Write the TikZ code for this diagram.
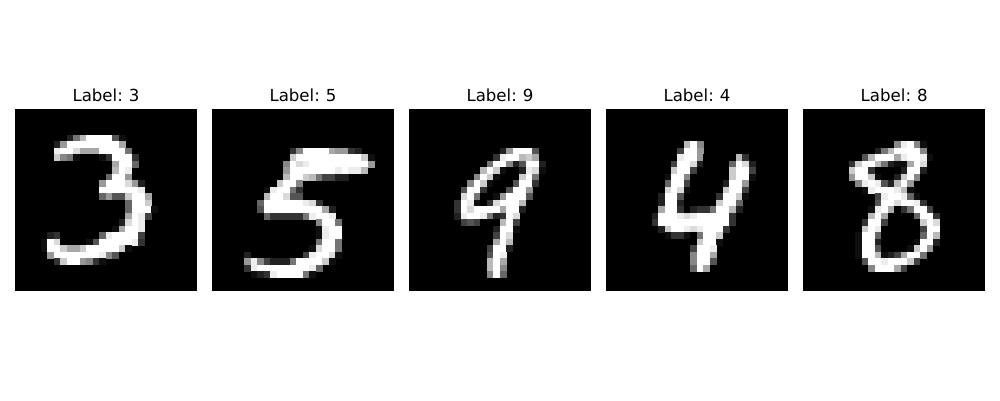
\documentclass[tikz,border=0pt]{standalone}
\usepackage{fontspec}
\setmainfont[WordSpace=0.8]{DejaVu Sans}
\usetikzlibrary{positioning}
\tikzset{
  labeltitle/.style={anchor=base,inner sep=0pt,font=\fontsize{9.45}{11}\selectfont},
  panelgrid/.style={x=0.13cm,y=-0.13cm}
}
% rows of one digit: row/first column/{grey levels 0..F}
\newcommand{\pixrows}[1]{%
  \fill[black] (0,0) rectangle (28,28);
  \foreach \rw/\cl/\vals in {#1} {\foreach \v [count=\k from \cl] in \vals {%
    \pgfmathsetmacro{\lum}{int(0x\v*100/15)}
    \fill[white!\lum!black] (\k,\rw) rectangle ++(1.04,1.04);}}}

\begin{document}
\begin{tikzpicture}[x=0.02cm,y=0.02cm]
\useasboundingbox (0,0) rectangle (1000,400);
% digit 3
\begin{scope}[shift={(15,291)},panelgrid]
\pixrows{4/8/{2,7,B,F,F,F,F,5,1},
5/6/{2,9,F,F,F,F,F,F,F,F,A},
6/6/{E,F,F,D,A,A,A,F,F,F,F,7},
7/6/{C,8,7,1,0,0,0,1,3,F,F,F,3},
8/15/{A,F,F,6},
9/15/{B,F,E},
10/14/{6,F,F,9},
11/13/{9,F,F,F,D,9,2},
12/13/{F,F,F,F,F,F,E},
13/13/{6,9,5,5,C,F,F,A},
14/17/{6,F,F,C},
15/17/{6,F,F,F,1},
16/17/{A,F,E,4},
17/16/{2,D,F,E},
18/15/{1,A,F,F,E},
19/5/{2,3,0,0,0,0,0,0,6,E,F,F,F,F,4},
20/4/{1,F,D,0,0,0,0,1,5,F,F,F,F,F,E,3},
21/4/{1,F,F,C,A,A,C,F,F,F,F,F,C,1},
22/5/{9,F,F,F,F,F,F,F,E,8,5},
23/6/{3,C,F,F,9,8,3,1}}
\node[labeltitle] (title3) at (14,-1.2) {Label: 3};
\end{scope}
% digit 5
\begin{scope}[shift={(212,291)},panelgrid]
\pixrows{6/12/{3,8,F,F,F,F,A,9,9,3,2},
7/12/{C,F,F,F,F,F,F,F,F,F,F,C,1},
8/11/{8,F,D,E,F,F,F,F,F,F,F,F,F,9},
9/11/{9,F,F,F,F,F,F,F,E,F,E,E,B},
10/11/{B,F,F,C,B,7,4,4,2,2},
11/10/{C,F,F,8},
12/8/{1,E,F,F,7,3},
13/8/{B,F,F,D,5,5},
14/7/{6,F,F,F,F,F,F,E,D,3},
15/7/{5,F,F,F,F,F,F,F,F,F,A,2},
16/8/{6,3,3,3,3,3,7,E,F,F,E},
17/16/{8,F,F,7},
18/16/{1,E,F,F},
19/16/{1,E,F,F},
20/16/{7,F,F,7},
21/15/{1,D,F,F,7},
22/5/{2,0,0,0,0,0,0,0,0,4,E,F,F,D,1},
23/5/{9,E,8,4,2,2,2,7,F,F,F,F,C,1},
24/5/{3,E,F,F,F,F,F,F,F,F,E,6},
25/6/{1,2,3,E,F,F,F,F,7,1}}
\node[labeltitle] (title5) at (14,-1.2) {Label: 5};
\end{scope}
% digit 9
\begin{scope}[shift={(409,291)},panelgrid]
\pixrows{6/14/{2,9,F,F,F,5},
7/13/{3,E,F,F,B,C,A},
8/12/{7,F,F,8,2,5,F,F,2},
9/11/{B,F,C,1,0,0,2,E,D,1},
10/10/{8,F,C,1,0,0,0,C,F,7},
11/9/{8,F,C,1,0,0,0,5,F,F,3},
12/8/{5,F,F,3,0,0,0,5,F,F,9},
13/8/{D,F,7,0,0,1,9,F,F,F,5},
14/7/{3,F,E,1,0,3,D,F,F,F,B},
15/7/{3,F,D,F,F,F,F,A,F,F,2},
16/7/{2,E,F,F,E,7,2,3,F,D},
17/8/{4,5,4,0,0,0,B,F,4},
18/13/{2,F,F,1},
19/13/{4,F,D},
20/13/{A,F,B},
21/12/{4,F,F,2},
22/12/{5,F,E},
23/12/{B,F,A},
24/12/{B,F,8},
25/12/{8,F,6}}
\node[labeltitle] (title9) at (14,-1.2) {Label: 9};
\end{scope}
% digit 4
\begin{scope}[shift={(606,291)},panelgrid]
\pixrows{5/12/{B,F,8},
6/11/{4,F,F,9},
7/11/{E,F,F,9,0,0,0,0,0,B,3},
8/10/{4,F,F,D,2,0,0,0,0,6,F,D,2},
9/10/{C,F,F,4,0,0,0,0,0,C,F,F,4},
10/9/{1,F,F,8,0,0,0,0,0,0,C,F,F,1},
11/9/{6,F,F,4,0,0,0,0,0,2,F,F,9},
12/9/{D,F,D,1,0,0,0,0,0,C,F,F,4},
13/8/{2,F,F,5,0,0,0,0,0,3,F,F,C,1},
14/8/{2,F,F,2,0,0,0,0,0,C,F,F,6},
15/8/{A,F,F,3,0,2,3,3,7,F,F,B,2},
16/7/{2,F,F,F,E,D,E,F,F,F,F,F,3},
17/7/{3,F,F,F,F,F,F,F,F,F,F,F,3},
18/8/{2,C,F,F,E,D,E,F,F,F,3},
19/9/{1,3,3,1,0,7,F,F,C},
20/14/{C,F,F,1},
21/13/{4,F,F,E},
22/13/{8,F,F,A},
23/13/{8,F,F,5},
24/13/{6,F,A}}
\node[labeltitle] (title4) at (14,-1.2) {Label: 4};
\end{scope}
% digit 8
\begin{scope}[shift={(803.2,291)},panelgrid]
\pixrows{5/14/{8,E,F,8,1},
6/11/{2,7,B,F,F,F,F,8},
7/9/{5,B,F,F,F,A,E,F,F,E,1},
8/7/{3,C,F,F,B,7,2,1,1,A,F,D},
9/7/{C,F,F,3,0,0,0,0,2,F,F,2},
10/7/{9,F,F,C,1,0,0,2,C,F,8},
11/8/{8,E,F,E,5,2,B,F,9},
12/9/{1,E,F,F,F,E,B,1},
13/11/{4,E,F,F,E,6,1},
14/11/{5,F,F,D,F,F,E,3},
15/10/{1,E,F,A,0,3,7,F,F,4},
16/10/{B,F,A,0,0,0,0,6,F,F,3},
17/9/{3,F,F,4,0,0,0,0,0,C,F,D},
18/9/{C,F,E,0,0,0,0,0,0,4,F,F},
19/8/{1,F,F,6,0,0,0,0,0,0,6,F,B},
20/8/{1,F,F,2,0,0,0,0,0,1,F,F,2},
21/8/{1,F,F,5,0,0,0,0,1,C,F,9},
22/8/{1,F,F,B,1,2,4,A,F,F,7},
23/9/{5,F,F,E,F,F,F,C,4},
24/10/{8,F,F,F,A,4}}
\node[labeltitle] (title8) at (14,-1.2) {Label: 8};
\end{scope}
\end{tikzpicture}
\end{document}
